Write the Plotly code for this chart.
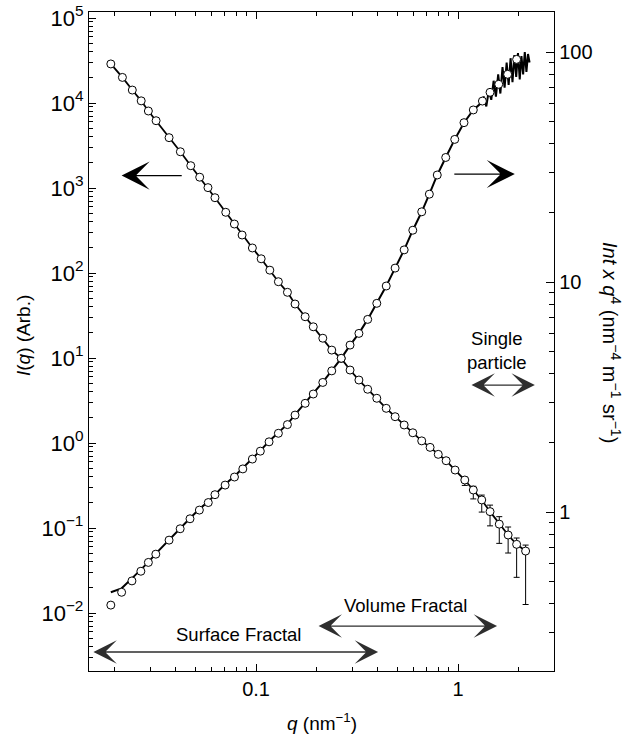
import math
import plotly.graph_objects as go

# ---------------- data ----------------
q1 = [0.0191, 0.0218, 0.0244, 0.0270, 0.0293, 0.0320, 0.0371, 0.0422, 0.0475, 0.0526,
      0.0578, 0.0626, 0.0708, 0.0781, 0.0853, 0.0959, 0.106, 0.117, 0.129, 0.143,
      0.156, 0.175, 0.192, 0.214, 0.237, 0.264, 0.292, 0.323, 0.357, 0.396,
      0.441, 0.488, 0.541, 0.597, 0.661, 0.727, 0.798, 0.873, 0.967, 1.08,
      1.19, 1.31, 1.44, 1.60, 1.77, 1.95, 2.16]
I1 = [28800, 20000, 14200, 10600, 8050, 6190, 3910, 2670, 1830, 1340,
      1010, 769, 518, 377, 280, 197, 147, 108, 79, 59.3,
      43.2, 30.6, 23.3, 17.1, 12.4, 9.9, 7.22, 5.51, 4.29, 3.36,
      2.56, 2.04, 1.63, 1.32, 1.06, 0.889, 0.736, 0.619, 0.481, 0.367,
      0.280, 0.214, 0.156, 0.111, 0.0828, 0.0643, 0.0536]
I1_err_plus = [0] * 39 + [0.03, 0.03, 0.03, 0.03, 0.025, 0.02, 0.012, 0.0094]
I1_err_minus = [0] * 39 + [0.05, 0.06, 0.06, 0.05, 0.045, 0.032, 0.038, 0.041]

q2 = [0.0191, 0.0216, 0.0243, 0.0269, 0.0293, 0.0319, 0.0371, 0.0421, 0.0471, 0.0524,
      0.0580, 0.0626, 0.0703, 0.0782, 0.0860, 0.0959, 0.105, 0.116, 0.129, 0.143,
      0.156, 0.175, 0.192, 0.214, 0.237, 0.264, 0.292, 0.323, 0.357, 0.396,
      0.441, 0.488, 0.541, 0.597, 0.661, 0.721, 0.789, 0.869, 0.963, 1.07,
      1.19, 1.32, 1.44, 1.59, 1.76, 1.95]
Y2 = [0.394, 0.448, 0.502, 0.553, 0.604, 0.656, 0.755, 0.846, 0.935, 1.02,
      1.10, 1.19, 1.31, 1.42, 1.54, 1.70, 1.84, 2.02, 2.20, 2.40,
      2.64, 2.97, 3.26, 3.66, 4.11, 4.66, 5.32, 5.98, 6.88, 8.08,
      9.61, 11.5, 13.8, 16.8, 20.2, 24.1, 29.2, 34.8, 41.7, 49.3,
      56.0, 61.2, 66.8, 72.4, 80.0, 92.9]

# continuous (measured) line of the second series
q2_line = [0.0191, 0.0216, 0.0243, 0.0269, 0.0293, 0.0319, 0.0371, 0.0421, 0.0471, 0.0524,
           0.0580, 0.0626, 0.0703, 0.0782, 0.0860, 0.0959, 0.105, 0.116, 0.129, 0.143,
           0.156, 0.175, 0.192, 0.214, 0.237, 0.264, 0.292, 0.323, 0.357, 0.396,
           0.441, 0.488, 0.541, 0.597, 0.661, 0.721, 0.789, 0.869, 0.963, 1.07,
           1.19, 1.30, 1.34, 1.38, 1.42, 1.46, 1.50, 1.54, 1.58, 1.62, 1.66, 1.70,
           1.74, 1.78, 1.82, 1.86, 1.90, 1.94, 1.98, 2.02, 2.06, 2.10, 2.14, 2.18, 2.22, 2.26]
Y2_line = [0.448, 0.466, 0.515, 0.560, 0.606, 0.660, 0.760, 0.850, 0.940, 1.03,
           1.11, 1.19, 1.32, 1.43, 1.55, 1.70, 1.85, 2.03, 2.21, 2.41,
           2.65, 2.98, 3.27, 3.67, 4.12, 4.66, 5.32, 5.98, 6.88, 8.08,
           9.61, 11.5, 13.8, 16.8, 20.2, 24.1, 29.2, 34.8, 41.7, 49.3,
           56.0, 60.0, 64.0, 58.0, 68.0, 62.0, 75.0, 64.0, 80.0, 66.0, 86.0, 70.0,
           90.0, 72.0, 94.0, 74.0, 97.0, 78.0, 99.0, 76.0, 96.0, 80.0, 100.0, 82.0, 98.0, 90.0]

left_tickvals = [1e-2, 1e-1, 1, 10, 100, 1e3, 1e4, 1e5]
left_ticktext = ["10<sup>\u22122</sup>", "10<sup>\u22121</sup>", "10<sup>0</sup>", "10<sup>1</sup>",
                 "10<sup>2</sup>", "10<sup>3</sup>", "10<sup>4</sup>", "10<sup>5</sup>"]
right_tickvals = [1, 10, 100]
right_ticktext = ["1", "10", "100"]
x_tickvals = [0.1, 1]
x_ticktext = ["0.1", "1"]

FONT = "Liberation Sans, Arial, sans-serif"

W, H = 626, 736
ML, MR, MT, MB = 89, 72, 12, 65


def minor_vals(lo_exp, hi_exp):
    out = []
    for e in range(lo_exp, hi_exp + 1):
        for m in range(2, 10):
            out.append(m * 10.0 ** e)
    return out


def px_to_paper_x(px):
    return (px - ML) / (W - ML - MR)


def px_to_paper_y(py):
    return (H - MB - py) / (H - MT - MB)


fig = go.Figure()

# series 1: I(q), left axis
fig.add_trace(go.Scatter(x=q1, y=I1, mode="lines", line=dict(color="black", width=1.8),
                         yaxis="y", showlegend=False, hoverinfo="skip"))
fig.add_trace(go.Scatter(
    x=q1, y=I1, mode="markers", yaxis="y", showlegend=False,
    marker=dict(symbol="circle", size=8, color="white", line=dict(color="black", width=1)),
    error_y=dict(type="data", symmetric=False, array=I1_err_plus, arrayminus=I1_err_minus,
                 color="black", thickness=1, width=3)))

# series 2: Int x q^4, right axis
fig.add_trace(go.Scatter(x=q2_line, y=Y2_line, mode="lines", line=dict(color="black", width=2),
                         yaxis="y2", showlegend=False, hoverinfo="skip"))
fig.add_trace(go.Scatter(
    x=q2, y=Y2, mode="markers", yaxis="y2", showlegend=False,
    marker=dict(symbol="circle", size=8, color="white", line=dict(color="black", width=1))))

axis_common = dict(showgrid=False, zeroline=False, showline=True, linecolor="black", linewidth=1.3,
                   ticks="inside", tickcolor="black", tickwidth=1.2)

fig.update_layout(
    width=W, height=H,
    margin=dict(l=ML, r=MR, t=MT, b=MB, autoexpand=False),
    paper_bgcolor="white", plot_bgcolor="white",
    font=dict(family=FONT, size=19, color="black"),
    xaxis=dict(type="log", range=[-1.827, 0.475], tickmode="array", tickvals=x_tickvals,
               ticktext=x_ticktext, ticklen=7, mirror="ticks",
               tickfont=dict(family=FONT, size=20, color="black"),
               minor=dict(tickmode="array", tickvals=minor_vals(-2, 0), ticks="inside",
                          ticklen=4, tickcolor="black", tickwidth=1),
               **axis_common),
    yaxis=dict(type="log", range=[-2.682, 5.0706], tickmode="array", tickvals=left_tickvals,
               ticktext=left_ticktext, ticklen=7,
               tickfont=dict(family=FONT, size=22, color="black"),
               minor=dict(tickmode="array", tickvals=minor_vals(-3, 4), ticks="inside",
                          ticklen=4, tickcolor="black", tickwidth=1),
               **axis_common),
    yaxis2=dict(type="log", range=[-0.691, 2.174], overlaying="y", side="right",
                tickmode="array", tickvals=right_tickvals, ticktext=right_ticktext, ticklen=8,
                tickfont=dict(family=FONT, size=20, color="black"),
                minor=dict(tickmode="array", tickvals=minor_vals(-1, 2), ticks="inside",
                           ticklen=4.5, tickcolor="black", tickwidth=1),
                **axis_common),
)

L = math.log10
# single arrows pointing to the axes
fig.add_annotation(x=L(0.0216), y=L(1400), xref="x", yref="y", axref="x", ayref="y",
                   ax=L(0.0436), ay=L(1400), text="", showarrow=True,
                   arrowhead=3, arrowsize=3.9, arrowwidth=1.2, arrowcolor="black")
fig.add_annotation(x=L(1.91), y=L(1460), xref="x", yref="y", axref="x", ayref="y",
                   ax=L(0.942), ay=L(1460), text="", showarrow=True,
                   arrowhead=3, arrowsize=3.9, arrowwidth=1.2, arrowcolor="black")
# double arrows
for (xa, xb, yy) in [(1.146, 2.40, 4.81), (0.2005, 1.56, 0.00703), (0.0154, 0.402, 0.00348)]:
    fig.add_annotation(x=L(xb), y=L(yy), xref="x", yref="y", axref="x", ayref="y",
                       ax=L(xa), ay=L(yy), text="", showarrow=True,
                       arrowside="end+start", arrowhead=3, startarrowhead=3,
                       arrowsize=3.0, startarrowsize=3.0, arrowwidth=1.3,
                       arrowcolor="#2e2e2e")
# region labels
fig.add_annotation(x=L(1.56), y=L(12.1), xref="x", yref="y", text="Single<br>particle",
                   showarrow=False, font=dict(family=FONT, size=18.5), align="center")
fig.add_annotation(x=L(0.547), y=L(0.0124), xref="x", yref="y", text="Volume Fractal",
                   showarrow=False, font=dict(family=FONT, size=18.5))
fig.add_annotation(x=L(0.0815), y=L(0.00566), xref="x", yref="y", text="Surface Fractal",
                   showarrow=False, font=dict(family=FONT, size=18.5))

# axis titles
fig.add_annotation(x=px_to_paper_x(23), y=px_to_paper_y(336), xref="paper", yref="paper",
                   text="<i>I</i>(<i>q</i>) (Arb.)", textangle=-90, showarrow=False,
                   xanchor="center", yanchor="middle", font=dict(family=FONT, size=19))
fig.add_annotation(x=px_to_paper_x(612), y=px_to_paper_y(342), xref="paper", yref="paper",
                   text="<i>Int x q</i><sup>4</sup> (nm<sup>\u22124</sup> m<sup>\u22121</sup> sr<sup>\u22121</sup>)",
                   textangle=90, showarrow=False, xanchor="center", yanchor="middle",
                   font=dict(family=FONT, size=20))
fig.add_annotation(x=px_to_paper_x(322), y=px_to_paper_y(722), xref="paper", yref="paper",
                   text="<i>q</i> (nm<sup>\u22121</sup>)", showarrow=False,
                   xanchor="center", yanchor="middle", font=dict(family=FONT, size=19))

# remove the default 8px page margin so the figure fills the window exactly
fig.write_html("out.html", config={"displayModeBar": False},
               post_script="document.body.style.margin='0px';document.body.style.overflow='hidden';")
